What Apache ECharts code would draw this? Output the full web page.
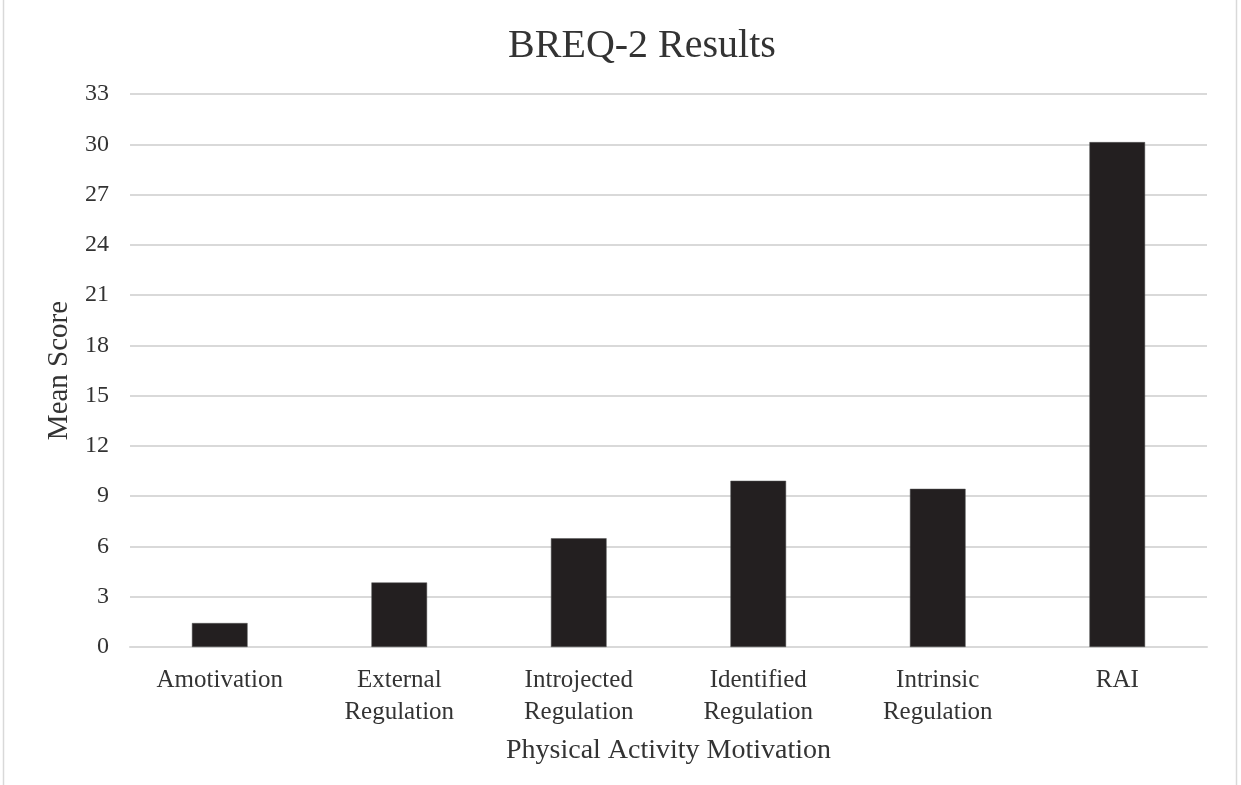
<!DOCTYPE html>
<html>
<head>
<meta charset="utf-8">
<script src="https://cdn.jsdelivr.net/npm/echarts@6/dist/echarts.min.js"></script>
<style>
  html, body { margin: 0; padding: 0; background: #fff; }
  #chart { width: 1241px; height: 785px; }
</style>
</head>
<body>
<div id="chart"></div>
<script>
// BREQ-2 subscale means
const categories = ['Amotivation', 'External\nRegulation', 'Introjected\nRegulation', 'Identified\nRegulation', 'Intrinsic\nRegulation', 'RAI'];
const meanScores = [1.43, 3.85, 6.49, 9.92, 9.44, 30.13];
const yTicks = { min: 0, max: 33, interval: 3 };

const serif = '"Liberation Serif", "DejaVu Serif", serif';
const chart = echarts.init(document.getElementById('chart'));

chart.setOption({
  backgroundColor: '#fff',
  animation: false,
  title: {
    text: 'BREQ-2 Results',
    left: 637,
    top: 21,
    textAlign: 'center',
    textStyle: { fontFamily: serif, fontSize: 40, fontWeight: 'normal', color: '#333' }
  },
  graphic: [{
    type: 'rect',
    shape: { x: 3.5, y: -5, width: 1233, height: 800 },
    style: { fill: 'none', stroke: '#d9d9d9', lineWidth: 1.5 },
    silent: true
  }],
  grid: { left: 130, right: 34, top: 94, bottom: 138, containLabel: false },
  xAxis: {
    type: 'category',
    data: categories,
    name: 'Physical Activity Motivation',
    nameLocation: 'middle',
    nameGap: 90,
    nameTextStyle: { fontFamily: serif, fontSize: 28, color: '#333' },
    axisLine: { show: true, lineStyle: { color: '#d9d9d9', width: 2 } },
    axisTick: { show: false },
    axisLabel: {
      fontFamily: serif, fontSize: 25, color: '#333',
      margin: 17, lineHeight: 32, interval: 0
    }
  },
  yAxis: {
    type: 'value',
    min: yTicks.min,
    max: yTicks.max,
    interval: yTicks.interval,
    name: 'Mean Score',
    nameLocation: 'middle',
    nameGap: 54,
    nameRotate: 90,
    nameTextStyle: { fontFamily: serif, fontSize: 29, color: '#333' },
    axisLine: { show: false },
    axisTick: { show: false },
    axisLabel: { fontFamily: serif, fontSize: 24, color: '#333', margin: 21 },
    splitLine: { lineStyle: { color: '#d9d9d9', width: 2 } }
  },
  series: [{
    type: 'bar',
    data: meanScores,
    barWidth: '31%',
    itemStyle: { color: '#231f20', borderColor: '#555', borderWidth: 0.5 }
  }]
});
</script>
</body>
</html>
